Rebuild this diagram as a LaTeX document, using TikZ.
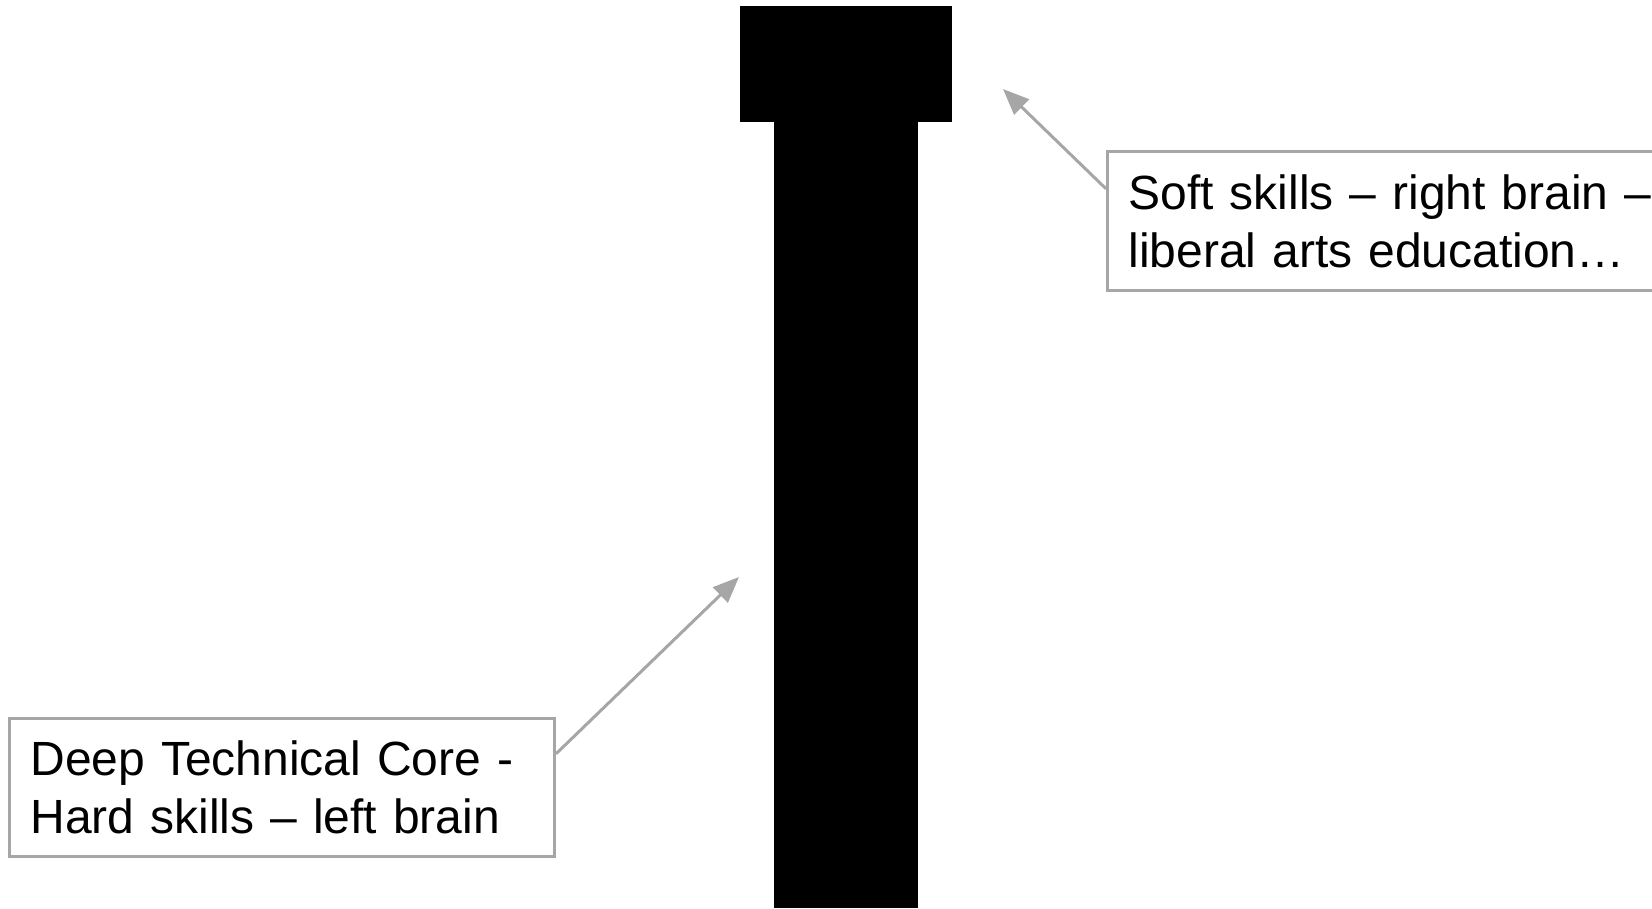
\documentclass[tikz,border=0pt]{standalone}
\usepackage{fontspec}
\setmainfont{Liberation Sans}
\usetikzlibrary{arrows.meta,calc}
\definecolor{calloutgray}{HTML}{A6A6A6}
\tikzset{
  callout/.style={draw=calloutgray, line width=3pt, fill=white, rectangle,
    inner xsep=21pt, inner ysep=0pt, align=left, anchor=north west,
    font=\fontsize{48}{58}\selectfont},
  pointer/.style={draw=calloutgray, line width=3pt,
    -{Triangle[length=26pt,width=21pt]}},
}
\begin{document}
\begin{tikzpicture}[x=1pt,y=-1pt]
  \useasboundingbox (0,0) rectangle (1652,908);
  % T-shaped figure: cross bar and stem
  \fill[black] (739.5,6) rectangle (951.5,121.5);
  \fill[black] (774,121) rectangle (918,908);
  % callout boxes
  \begin{scope}
    \clip (0,0) rectangle (1652,908);
    \node[callout, minimum width=545pt, minimum height=138pt, text width=503pt]
      (hard) at (8,717) {Deep Technical Core -\\Hard skills – left brain};
    \node[callout, minimum width=570pt, minimum height=139pt, text width=528pt]
      (soft) at (1106,150) {Soft skills – right brain –\\liberal arts education…};
  \end{scope}
  % arrow targets
  \coordinate (barTip) at (1003,89);
  \coordinate (stemTip) at (739,577);
  \draw[pointer] ($(soft.north west)!0.273!(soft.south west)$) -- (barTip);
  \draw[pointer] ($(hard.north east)!0.261!(hard.south east)$) -- (stemTip);
\end{tikzpicture}
\end{document}
